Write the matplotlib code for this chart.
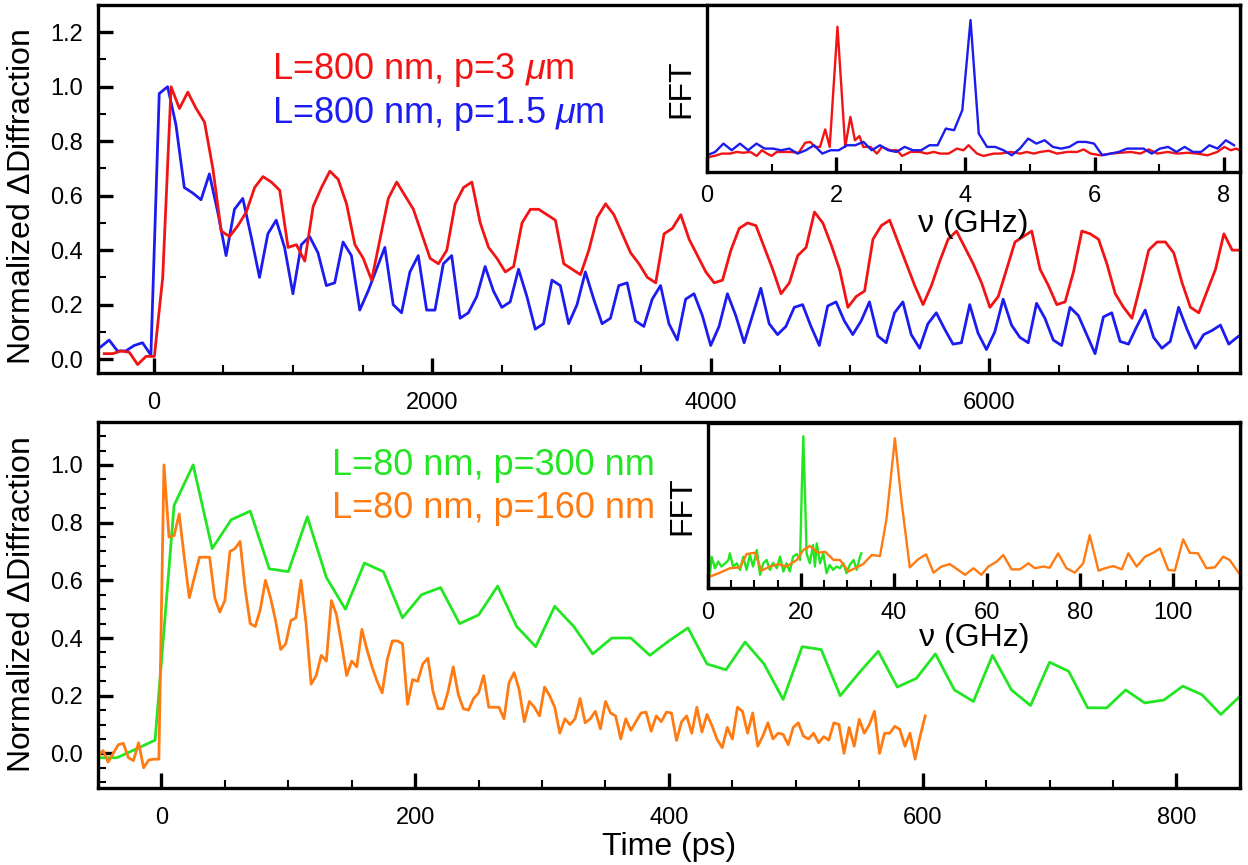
import matplotlib
matplotlib.use('Agg')
import matplotlib.pyplot as plt
import numpy as np
from matplotlib.ticker import MultipleLocator

plt.rcParams['font.family'] = ['Liberation Sans', 'DejaVu Sans']
plt.rcParams['mathtext.fontset'] = 'custom'
plt.rcParams['mathtext.rm'] = 'Liberation Sans'
plt.rcParams['mathtext.it'] = 'Liberation Sans:italic'

# ---- top panel: L=800 nm, time traces (ps), sampled every 60 ps
red_t0 = -355
blue_t0 = -380
top_dt = 60
red_vals = [0.02, 0.02, 0.03, 0.025, -0.02, 0.01, 0.01, 0.30, 1.00, 0.92,
            0.98, 0.92, 0.87, 0.70, 0.47, 0.45, 0.49, 0.54, 0.63, 0.67,
            0.65, 0.62, 0.41, 0.42, 0.36, 0.56, 0.63, 0.69, 0.66, 0.57,
            0.42, 0.37, 0.29, 0.44, 0.59, 0.65,
            0.60, 0.55, 0.46, 0.37, 0.35, 0.40, 0.57, 0.63, 0.65, 0.50,
            0.41, 0.37, 0.32, 0.34, 0.50, 0.55, 0.55, 0.53, 0.51, 0.35,
            0.33, 0.31, 0.40, 0.52, 0.57, 0.53, 0.46, 0.39, 0.35, 0.30,
            0.28, 0.46, 0.48, 0.53, 0.44,
            0.38, 0.32, 0.28, 0.29, 0.40, 0.48, 0.50, 0.49, 0.41, 0.33,
            0.24, 0.28, 0.38, 0.41, 0.54, 0.50, 0.42, 0.33, 0.19, 0.23,
            0.25, 0.44, 0.49, 0.51, 0.43, 0.35, 0.27, 0.20, 0.27, 0.36,
            0.44, 0.47, 0.41, 0.35, 0.28,
            0.19, 0.23, 0.33, 0.43, 0.45, 0.47, 0.33, 0.27, 0.20, 0.21,
            0.32, 0.47, 0.46, 0.44, 0.35, 0.24, 0.19, 0.15, 0.27, 0.40,
            0.43, 0.43, 0.39, 0.28, 0.19, 0.17, 0.25, 0.33, 0.46, 0.40,
            0.40]
blue_vals = [0.045, 0.07, 0.03, 0.03, 0.05, 0.06, 0.015, 0.975, 1.00, 0.86,
             0.63, 0.61, 0.585, 0.68, 0.54, 0.38, 0.55, 0.59, 0.45, 0.30,
             0.46, 0.51, 0.41, 0.24, 0.42, 0.45, 0.39, 0.27, 0.28, 0.43,
             0.38, 0.18, 0.25, 0.33, 0.41, 0.20,
             0.17, 0.32, 0.38, 0.18, 0.18, 0.35, 0.38, 0.15, 0.17, 0.23,
             0.34, 0.25, 0.19, 0.21, 0.33, 0.23, 0.11, 0.13, 0.29, 0.27,
             0.13, 0.20, 0.32, 0.22, 0.13, 0.15, 0.27, 0.28, 0.14, 0.12,
             0.22, 0.27, 0.13, 0.07, 0.22,
             0.24, 0.16, 0.05, 0.12, 0.24, 0.16, 0.06, 0.16, 0.26, 0.13,
             0.09, 0.12, 0.19, 0.20, 0.12, 0.05, 0.195, 0.21, 0.14, 0.09,
             0.14, 0.21, 0.085, 0.06, 0.17, 0.21, 0.09, 0.04, 0.13, 0.17,
             0.11, 0.055, 0.06, 0.20, 0.095,
             0.035, 0.10, 0.22, 0.125, 0.08, 0.06, 0.205, 0.15, 0.07, 0.05,
             0.19, 0.16, 0.09, 0.02, 0.155, 0.17, 0.065, 0.055, 0.12, 0.18,
             0.08, 0.04, 0.065, 0.19, 0.11, 0.04, 0.09, 0.105, 0.125, 0.055,
             0.08, 0.10]

# top inset FFT (GHz)
blue_fft_df = 0.1275
blue_fft = [0.10, 0.12, 0.17, 0.13, 0.17, 0.13, 0.17, 0.14, 0.14, 0.13,
            0.14, 0.11, 0.13, 0.16, 0.11, 0.13, 0.13, 0.16, 0.16, 0.18,
            0.13, 0.16, 0.13, 0.12, 0.15, 0.13, 0.13, 0.16, 0.16, 0.26,
            0.25, 0.37, 0.91, 0.23, 0.15, 0.15, 0.13, 0.10, 0.14, 0.20,
            0.17, 0.19, 0.15, 0.14, 0.15, 0.18, 0.18, 0.17, 0.10, 0.11,
            0.12, 0.14, 0.14, 0.14, 0.11, 0.14, 0.15, 0.12, 0.15, 0.12,
            0.12, 0.16, 0.14, 0.19, 0.16]
red_fft_f = [0.02, 0.15, 0.23, 0.36, 0.46, 0.56, 0.67, 0.77, 0.85, 0.93,
             1.00, 1.08, 1.18, 1.29, 1.42, 1.52, 1.60, 1.67, 1.75, 1.83,
             1.90, 2.02, 2.14, 2.22, 2.29, 2.36, 2.42, 2.53, 2.63, 2.71,
             2.84, 2.94, 3.02, 3.15, 3.30, 3.40, 3.51, 3.61, 3.74, 3.87,
             3.97, 4.05, 4.18, 4.28, 4.44, 4.54, 4.70, 4.85, 4.95, 5.06,
             5.16, 5.29, 5.42, 5.58, 5.73, 5.83, 5.94, 6.09, 6.25, 6.40,
             6.56, 6.71, 6.84, 6.97, 7.13, 7.28, 7.44, 7.59, 7.75, 7.90,
             8.01, 8.11, 8.19, 8.25]
red_fft = [0.088, 0.10, 0.11, 0.11, 0.12, 0.115, 0.12, 0.096, 0.13, 0.11,
           0.096, 0.12, 0.12, 0.12, 0.115, 0.175, 0.18, 0.15, 0.15, 0.255,
           0.15, 0.87, 0.15, 0.33, 0.19, 0.215, 0.15, 0.15, 0.11, 0.15,
           0.13, 0.13, 0.096, 0.12, 0.12, 0.11, 0.12, 0.11, 0.11, 0.14,
           0.13, 0.16, 0.11, 0.096, 0.11, 0.11, 0.12, 0.11, 0.12, 0.11,
           0.12, 0.127, 0.11, 0.12, 0.12, 0.135, 0.11, 0.10, 0.11, 0.115,
           0.12, 0.11, 0.135, 0.11, 0.12, 0.11, 0.115, 0.11, 0.10, 0.12,
           0.15, 0.13, 0.14, 0.13]

# ---- bottom panel: L=80 nm
green_t0 = -50
green_dt = 15
green_vals = [-0.015, -0.015, 0.015, 0.046, 0.86, 1.00, 0.71, 0.81, 0.84, 0.64,
              0.63, 0.82, 0.61, 0.50, 0.66, 0.63, 0.47, 0.55, 0.575, 0.45,
              0.48, 0.58, 0.44, 0.37, 0.51, 0.44, 0.345, 0.40, 0.40, 0.34,
              0.39, 0.435, 0.31, 0.29, 0.386, 0.31, 0.187, 0.37, 0.36, 0.20,
              0.28, 0.354, 0.23, 0.26, 0.345, 0.22, 0.18, 0.34, 0.22, 0.166,
              0.316, 0.285, 0.158, 0.158, 0.22, 0.175, 0.185, 0.233, 0.204, 0.135,
              0.198]
orange_t0 = -50
orange_dt = 4
orange_vals = [-0.01, 0.01, -0.03, 0.00, 0.03, 0.035, -0.015, -0.025, 0.037, -0.05,
               -0.023, -0.02, -0.02,
               1.00, 0.75, 0.755, 0.83, 0.68, 0.54, 0.61, 0.68, 0.68, 0.68,
               0.54, 0.49, 0.53, 0.70, 0.71, 0.735, 0.57, 0.45, 0.44, 0.50,
               0.60, 0.54, 0.46, 0.36, 0.38, 0.46, 0.47, 0.60, 0.45, 0.24,
               0.27, 0.34, 0.32, 0.53, 0.48, 0.38, 0.27, 0.32, 0.30, 0.43,
               0.36, 0.30, 0.25, 0.21, 0.325, 0.39, 0.39,
               0.38, 0.17, 0.256, 0.25, 0.31, 0.33, 0.216, 0.155, 0.155, 0.216,
               0.30, 0.204, 0.155, 0.15, 0.19, 0.21, 0.27, 0.16, 0.16, 0.16,
               0.12, 0.245, 0.28, 0.22, 0.11, 0.18, 0.16, 0.13, 0.23, 0.20,
               0.16, 0.07, 0.12, 0.10, 0.12, 0.19, 0.106, 0.12, 0.146, 0.085,
               0.18, 0.14, 0.13, 0.05, 0.12, 0.08, 0.11, 0.14, 0.143, 0.077,
               0.13, 0.11, 0.143, 0.14, 0.045, 0.11, 0.13, 0.07, 0.16, 0.074,
               0.135, 0.095, 0.048,
               0.02, 0.09, 0.05, 0.16, 0.146, 0.07, 0.14, 0.025, 0.06, 0.106,
               0.05, 0.07, 0.066, 0.03, 0.09, 0.106, 0.06, 0.05, 0.07, 0.037,
               0.058, 0.046, 0.106, 0.10, 0.0, 0.09, 0.025, 0.118, 0.07, 0.10,
               0.146, 0.0, 0.07, 0.07, 0.094, 0.083, 0.025, 0.07, -0.02, 0.06,
               0.13]

# bottom inset FFT (GHz)
green_fft_f = [0.43, 0.79, 1.5, 2.2, 2.9, 3.7, 4.4, 4.7, 5.4, 6.2,
               6.9, 7.6, 8.3, 9.0, 9.7, 10.5, 11.2, 11.9, 12.6, 13.3,
               14.0, 14.8, 15.5, 16.2, 16.9, 17.6, 18.3, 19.1, 19.8, 20.2,
               20.5, 20.9, 21.2, 21.9, 22.6, 23.0, 23.4, 24.1, 24.8, 25.5,
               26.2, 26.9, 27.7, 28.4, 29.1, 29.8, 30.5, 31.3, 32.0, 32.7,
               33.0]
green_fft = [0.089, 0.19, 0.12, 0.16, 0.13, 0.15, 0.17, 0.21, 0.13, 0.15,
             0.11, 0.19, 0.11, 0.20, 0.13, 0.23, 0.08, 0.15, 0.17, 0.11,
             0.153, 0.12, 0.19, 0.10, 0.15, 0.10, 0.19, 0.206, 0.17, 0.63,
             0.92, 0.53, 0.21, 0.15, 0.26, 0.13, 0.27, 0.15, 0.21, 0.09,
             0.14, 0.11, 0.13, 0.12, 0.15, 0.09, 0.14, 0.17, 0.11, 0.19,
             0.21]
orange_fft_f = [0.0, 2.6, 4.7, 6.9, 8.3, 10.1, 11.5, 13.3, 15.1, 16.9,
                19.1, 20.5, 21.9, 23.7, 25.2, 27.0, 28.4, 30.2, 31.6, 33.4,
                35.2, 37.0, 38.4, 40.2, 41.6, 43.4, 45.2, 46.9, 48.5, 50.2,
                52.0, 53.8, 55.3, 57.1, 58.8, 60.3, 62.1, 63.5, 65.3, 67.1,
                68.9, 70.3, 72.1, 73.5, 75.3, 77.1, 78.9, 80.7, 82.1, 84.0,
                85.4, 87.2, 89.0, 90.4, 92.2, 94.0, 95.8, 97.2, 99.0, 100.4,
                102.2, 103.6, 105.4, 107.2, 109.0, 110.8, 112.2, 114.2]
orange_fft = [0.065, 0.093, 0.12, 0.125, 0.206, 0.214, 0.105, 0.13, 0.145, 0.13,
              0.17, 0.23, 0.255, 0.214, 0.22, 0.17, 0.17, 0.10, 0.12, 0.145,
              0.20, 0.194, 0.42, 0.907, 0.53, 0.125, 0.174, 0.204, 0.093, 0.13,
              0.145, 0.11, 0.08, 0.12, 0.08, 0.13, 0.16, 0.20, 0.113, 0.113,
              0.15, 0.12, 0.13, 0.123, 0.21, 0.12, 0.093, 0.15, 0.32, 0.105,
              0.12, 0.133, 0.113, 0.21, 0.13, 0.19, 0.214, 0.24, 0.11, 0.105,
              0.295, 0.214, 0.21, 0.12, 0.125, 0.19, 0.17, 0.09]

c_red = '#f21414'
c_blue = '#1c1cf0'
c_green = '#22e622'
c_orange = '#ff7b12'


def style(ax, xmaj, xmin, ymaj=None, ymin=None, xpad=14):
    for s in ax.spines.values():
        s.set_linewidth(2.4)
    ax.tick_params(which='both', direction='in', top=False, right=False,
                   labelsize=17)
    ax.tick_params(which='major', length=11, width=2.4)
    ax.tick_params(which='minor', length=6, width=1.5)
    ax.tick_params(axis='x', pad=xpad)
    ax.tick_params(axis='y', pad=11)
    ax.xaxis.set_major_locator(MultipleLocator(xmaj))
    ax.xaxis.set_minor_locator(MultipleLocator(xmin))
    if ymaj is None:
        ax.set_yticks([])
    else:
        ax.yaxis.set_major_locator(MultipleLocator(ymaj))
        ax.yaxis.set_minor_locator(MultipleLocator(ymin))


fig = plt.figure(figsize=(12.48, 8.65), dpi=100)
ax1 = fig.add_axes([0.0785, 0.5691, 0.915, 0.4251])
ax2 = fig.add_axes([0.0785, 0.0890, 0.915, 0.4235])
ins1 = fig.add_axes([0.5665, 0.8012, 0.9935 - 0.5665, 0.1930])
ins2 = fig.add_axes([0.5673, 0.3202, 0.9935 - 0.5673, 0.1908])

# top main
t_blue = blue_t0 + top_dt * np.arange(len(blue_vals))
t_red = red_t0 + top_dt * np.arange(len(red_vals))
ax1.plot(t_blue, blue_vals, color=c_blue, lw=2.0)
ax1.plot(t_red, red_vals, color=c_red, lw=2.0)
ax1.set_xlim(-400, 7800)
ax1.set_ylim(-0.05, 1.30)
style(ax1, 2000, 500, 0.2, 0.1)
ax1.set_ylabel(r'Normalized $\Delta$Diffraction', fontsize=23)
ax1.yaxis.set_label_coords(-0.053, 0.477)

# bottom main
t_green = green_t0 + green_dt * np.arange(len(green_vals))
t_orange = orange_t0 + orange_dt * np.arange(len(orange_vals))
ax2.plot(t_green, green_vals, color=c_green, lw=2.0)
ax2.plot(t_orange, orange_vals, color=c_orange, lw=2.0)
ax2.set_xlim(-50, 850)
ax2.set_ylim(-0.12, 1.15)
style(ax2, 200, 50, 0.2, 0.05)
ax2.set_ylabel(r'Normalized $\Delta$Diffraction', fontsize=23)
ax2.yaxis.set_label_coords(-0.053, 0.5)
ax2.set_xlabel('Time (ps)', fontsize=23, labelpad=2)

# top inset
f_blue = blue_fft_df * np.arange(len(blue_fft))
ins1.plot(red_fft_f, red_fft, color=c_red, lw=1.7)
ins1.plot(f_blue, blue_fft, color=c_blue, lw=1.7)
ins1.set_xlim(0, 8.25)
ins1.set_ylim(0, 1)
style(ins1, 2, 1, xpad=9.5)
ins1.set_ylabel('FFT', fontsize=23)
ins1.yaxis.set_label_coords(-0.02, 0.5)
ins1.set_xlabel(r'ν (GHz)', fontsize=23)
ins1.xaxis.set_label_coords(0.5, -0.22)

# bottom inset
ins2.plot(green_fft_f, green_fft, color=c_green, lw=1.7)
ins2.plot(orange_fft_f, orange_fft, color=c_orange, lw=1.7)
ins2.set_xlim(0, 114.4)
ins2.set_ylim(0, 1)
style(ins2, 20, 5, xpad=10)
ins2.set_ylabel('FFT', fontsize=23)
ins2.yaxis.set_label_coords(-0.02, 0.5)
ins2.set_xlabel(r'ν (GHz)', fontsize=23)
ins2.xaxis.set_label_coords(0.5, -0.21)

# labels of the curves
fig.text(0.218, 0.9087, r'L=800 nm, p=3 $\mu$m', color=c_red, fontsize=26,
         va='baseline')
fig.text(0.218, 0.8578, r'L=800 nm, p=1.5 $\mu$m', color=c_blue, fontsize=26,
         va='baseline')
fig.text(0.2658, 0.4509, 'L=80 nm, p=300 nm', color=c_green, fontsize=26,
         va='baseline')
fig.text(0.2658, 0.4008, 'L=80 nm, p=160 nm', color=c_orange, fontsize=26,
         va='baseline')

fig.savefig('out.png', dpi=100)
